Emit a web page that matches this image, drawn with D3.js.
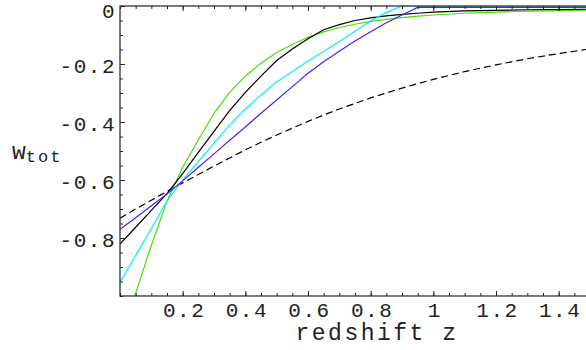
<!DOCTYPE html>
<html>
<head>
<meta charset="utf-8">
<script src="https://cdn.jsdelivr.net/npm/d3@7/dist/d3.min.js"></script>
<style>
  html, body { margin: 0; padding: 0; background: #fff; }
  svg { display: block; }
  .tick text { font-family: "Liberation Mono", "DejaVu Sans Mono", monospace; }
</style>
</head>
<body>
<svg id="chart" width="586" height="350"></svg>
<script>
// redshift grid shared by all curves
const redshift = [0, 0.05, 0.1, 0.15, 0.2, 0.25, 0.3, 0.35, 0.4, 0.45, 0.5, 0.55, 0.6, 0.65,
                  0.7, 0.75, 0.8, 0.85, 0.9, 0.95, 1.0, 1.1, 1.2, 1.3, 1.4, 1.5];

// w_tot
const wGreen = [-1.14, -0.99, -0.826, -0.672, -0.556, -0.462, -0.37, -0.298, -0.242, -0.197, -0.16,
                -0.133, -0.108, -0.089, -0.074, -0.063, -0.053, -0.046, -0.04, -0.035, -0.031,
                -0.025, -0.021, -0.018, -0.016, -0.014];
const wBlack = [-0.821, -0.763, -0.705, -0.647, -0.578, -0.505, -0.432, -0.361, -0.298, -0.242, -0.188,
                -0.148, -0.113, -0.082, -0.064, -0.05, -0.041, -0.034, -0.029, -0.025, -0.021,
                -0.017, -0.015, -0.013, -0.012, -0.011];
const wCyan  = [-0.954, -0.86, -0.767, -0.673, -0.6, -0.537, -0.474, -0.41, -0.355, -0.307, -0.262,
                -0.226, -0.19, -0.157, -0.122, -0.087, -0.052, -0.022, 0, 0, 0,
                0, 0, 0, 0, 0];
const wBlue  = [-0.77, -0.73, -0.689, -0.648, -0.603, -0.556, -0.51, -0.463, -0.417, -0.37, -0.324,
                -0.278, -0.232, -0.192, -0.156, -0.121, -0.089, -0.058, -0.031, -0.005, -0.005,
                -0.005, -0.005, -0.005, -0.005, -0.005];
const wDashed = [-0.732, -0.7, -0.67, -0.639, -0.61, -0.581, -0.552, -0.524, -0.496, -0.47, -0.445,
                 -0.421, -0.398, -0.376, -0.355, -0.336, -0.317, -0.3, -0.283, -0.268, -0.253,
                 -0.226, -0.203, -0.182, -0.164, -0.148];

const xMajor = [0.2, 0.4, 0.6, 0.8, 1.0, 1.2, 1.4];
const yMajor = [0, -0.2, -0.4, -0.6, -0.8];

const series = [
  { w: wDashed, color: "#000", dash: "7,4" },
  { w: wGreen, color: "#40e000" },
  { w: wBlack, color: "#000" },
  { w: wCyan, color: "#00f0ff" },
  { w: wBlue, color: "#4a22ff" }
];

const svg = d3.select("#chart");
const pLeft = 120, pTop = 6, pRight = 590, pBottom = 296;

const x = d3.scaleLinear().domain([0, 1.5]).range([pLeft, pRight]);
const y = d3.scaleLinear().domain([-1, 0]).range([pBottom, pTop]);

svg.append("defs").append("clipPath").attr("id", "plotclip")
  .append("rect").attr("x", pLeft).attr("y", pTop)
  .attr("width", pRight - pLeft).attr("height", pBottom - pTop);

const line = d3.line()
  .x((d, i) => x(redshift[i]))
  .y(d => y(d));

const plot = svg.append("g").attr("clip-path", "url(#plotclip)");
series.forEach(s => {
  plot.append("path")
    .datum(s.w)
    .attr("d", line)
    .attr("fill", "none")
    .attr("stroke", s.color)
    .attr("stroke-width", 1.2)
    .attr("stroke-dasharray", s.dash || null);
});

const fmt = d => String(+d.toFixed(1));
const minorX = d3.range(0, 1.5001, 0.05).map(v => +v.toFixed(2));
const minorY = d3.range(-1, 0.0001, 0.05).map(v => +v.toFixed(2));

function styleAxis(g) {
  g.select(".domain").remove();
  g.selectAll(".tick line").attr("stroke", "#222").attr("stroke-width", 1);
}

// bottom axis
svg.append("g").attr("transform", `translate(0,${pBottom})`)
  .call(d3.axisBottom(x).tickValues(minorX).tickSize(-3).tickFormat(""))
  .call(styleAxis);
svg.append("g").attr("transform", `translate(0,${pBottom})`)
  .call(d3.axisBottom(x).tickValues(xMajor).tickSize(-5).tickFormat(fmt))
  .call(styleAxis)
  .call(g => g.selectAll(".tick text")
    .attr("y", 21).attr("dy", null).attr("dx", 1)
    .attr("fill", "#222").attr("font-size", 21).attr("letter-spacing", 1.5));

// top axis
svg.append("g").attr("transform", `translate(0,${pTop})`)
  .call(d3.axisTop(x).tickValues(minorX).tickSize(-3).tickFormat(""))
  .call(styleAxis);
svg.append("g").attr("transform", `translate(0,${pTop})`)
  .call(d3.axisTop(x).tickValues(xMajor).tickSize(-5).tickFormat(""))
  .call(styleAxis);

// left axis
svg.append("g").attr("transform", `translate(${pLeft},0)`)
  .call(d3.axisLeft(y).tickValues(minorY).tickSize(-3).tickFormat(""))
  .call(styleAxis);
svg.append("g").attr("transform", `translate(${pLeft},0)`)
  .call(d3.axisLeft(y).tickValues(yMajor).tickSize(-5).tickFormat(fmt))
  .call(styleAxis)
  .call(g => g.selectAll(".tick text")
    .attr("x", -4).attr("dy", null)
    .attr("y", d => d === 0 ? 11 : 8)
    .attr("fill", "#222").attr("font-size", 21).attr("letter-spacing", 1.5));

// frame
svg.append("rect")
  .attr("x", pLeft).attr("y", pTop)
  .attr("width", pRight - pLeft).attr("height", pBottom - pTop)
  .attr("fill", "none").attr("stroke", "#222").attr("stroke-width", 1.2);

// axis labels
svg.append("text")
  .attr("x", 377).attr("y", 340)
  .attr("text-anchor", "middle")
  .attr("font-family", "Liberation Mono, monospace")
  .attr("font-size", 23).attr("letter-spacing", 2.5)
  .attr("fill", "#222")
  .text("redshift z");

const wl = svg.append("text")
  .attr("x", 12).attr("y", 159)
  .attr("font-family", "Liberation Mono, monospace")
  .attr("font-size", 23).attr("fill", "#222");
wl.append("tspan").text("w");
wl.append("tspan").attr("dy", 3).attr("font-size", 17).attr("letter-spacing", 2).text("tot");
</script>
</body>
</html>
